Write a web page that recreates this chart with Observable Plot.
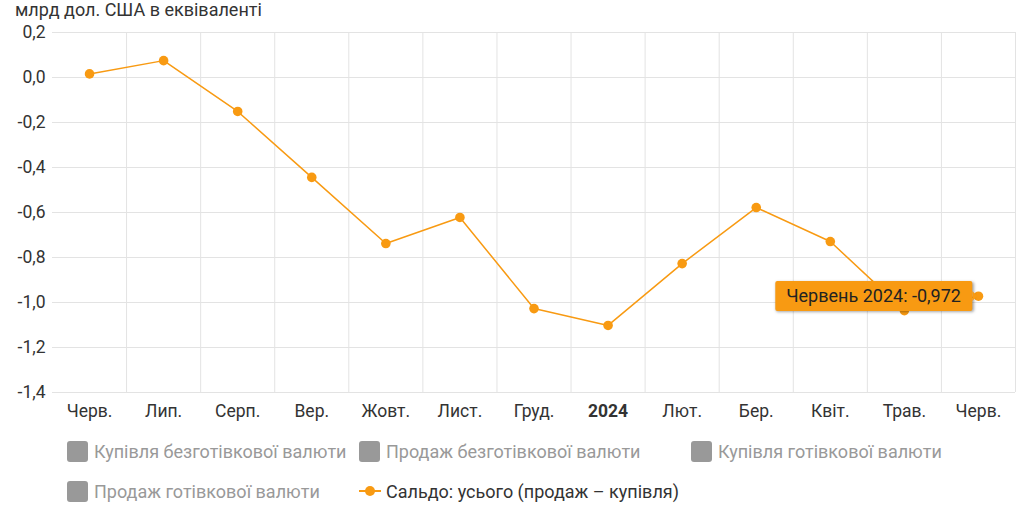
<!DOCTYPE html>
<html><head><meta charset="utf-8">
<script src="https://cdn.jsdelivr.net/npm/d3@7"></script>
<script src="https://cdn.jsdelivr.net/npm/@observablehq/plot@0.6"></script>
<style>
body{margin:0;background:#fff;font-family:Roboto,"Noto Sans",sans-serif;}
#wrap{position:relative;width:1024px;height:509px;overflow:hidden;background:#fff}
#title{position:absolute;left:15px;top:-1px;font-size:18px;line-height:22px;color:#333;z-index:2}
#chart{position:absolute;left:0;top:0;z-index:1}
.row{position:absolute;left:67px;display:flex;align-items:center;font-size:18px;color:#999;height:24px;z-index:3}
.item{display:flex;align-items:center;}
.sw{width:21px;height:21px;border-radius:3px;background:#999;margin-right:6px}
.ln{position:relative;width:22px;height:2px;background:#f89a12;margin-right:5px}
.ln::after{content:"";position:absolute;left:6px;top:-4px;width:10px;height:10px;border-radius:50%;background:#f89a12}
.tip{position:absolute;z-index:4;background:#f89a12;color:#222;font-size:18px;line-height:30px;height:30px;padding:0 11px;border-radius:2px;box-shadow:1px 1px 3px rgba(0,0,0,0.35);transform:translate(-100%,-50%);white-space:nowrap}
.tip::after{content:"";position:absolute;right:-5px;top:10px;border-top:5px solid transparent;border-bottom:5px solid transparent;border-left:5px solid #f89a12}
</style>
</head><body>
<div id="wrap">
  <div id="title">млрд дол. США в еквіваленті</div>
  <div id="chart"></div>
</div>
<script>
const months = ["2023-06","2023-07","2023-08","2023-09","2023-10","2023-11","2023-12","2024-01","2024-02","2024-03","2024-04","2024-05","2024-06"];
const monthLabels = ["Черв.","Лип.","Серп.","Вер.","Жовт.","Лист.","Груд.","2024","Лют.","Бер.","Квіт.","Трав.","Черв."];
const saldo = [0.016, 0.075, -0.151, -0.444, -0.738, -0.622, -1.027, -1.102, -0.827, -0.578, -0.729, -1.036, -0.972];
const yTicks = [0.2, 0, -0.2, -0.4, -0.6, -0.8, -1.0, -1.2, -1.4];
const legendInactive = ["Купівля безготівкової валюти","Продаж безготівкової валюти","Купівля готівкової валюти","Продаж готівкової валюти"];
const legendActive = "Сальдо: усього (продаж – купівля)";
const tipLabel = "Червень 2024";

const color = "#f89a12";
const data = months.map((m, i) => ({i, m, v: saldo[i]}));
const edges = d3.range(0.5, months.length, 1);
const fmt = v => d3.format(".1f")(v).replace(".", ",").replace("−", "-");

const plot = Plot.plot({
  width: 1024,
  height: 430,
  marginLeft: 52,
  marginRight: 9,
  marginTop: 32,
  marginBottom: 38,
  style: {fontFamily: "Roboto, sans-serif", fontSize: "17.5px", color: "#333", background: "transparent"},
  x: {type: "linear", domain: [-0.5, months.length - 0.5]},
  y: {domain: [-1.4, 0.2]},
  marks: [
    Plot.gridY(yTicks, {stroke: "#e3e3e3", strokeOpacity: 1}),
    Plot.ruleX(edges, {stroke: "#e3e3e3", strokeOpacity: 1}),
    Plot.axisY(yTicks, {tickSize: 0, tickPadding: 7, tickFormat: fmt, label: null, fontSize: 17.5}),
    Plot.axisX(d3.range(months.length), {tickSize: 0, tickPadding: 12, tickFormat: i => monthLabels[i], label: null, fontSize: 17.5}),
    Plot.line(data, {x: "i", y: "v", stroke: color, strokeWidth: 1.5}),
    Plot.dot(data, {x: "i", y: "v", fill: color, r: 4.8})
  ]
});
document.getElementById("chart").appendChild(plot);
d3.select(plot).selectAll("text").filter(function(){ return this.textContent === "2024"; }).attr("font-weight", "bold");

const wrap = document.getElementById("wrap");
const last = saldo.length - 1;
const px = plot.scale("x").apply(last);
const py = plot.scale("y").apply(saldo[last]);
const tip = document.createElement("div");
tip.className = "tip";
tip.textContent = tipLabel + ": " + d3.format(".3f")(saldo[last]).replace(".", ",").replace("−", "-");
tip.style.left = (px - 6) + "px";
tip.style.top = py + "px";
wrap.appendChild(tip);

const rows = [[0, 1, 2], [3, "active"]];
const rowTops = [439, 479];
const widths = [292, 332, 300];
rows.forEach((r, ri) => {
  const row = document.createElement("div");
  row.className = "row";
  row.style.top = rowTops[ri] + "px";
  r.forEach((k, ci) => {
    const it = document.createElement("div");
    it.className = "item";
    if (ci < r.length - 1) it.style.width = widths[ci] + "px";
    if (k === "active") {
      it.innerHTML = '<span class="ln"></span>';
      it.appendChild(document.createTextNode(legendActive));
      it.style.color = "#333";
    } else {
      it.innerHTML = '<span class="sw"></span>';
      it.appendChild(document.createTextNode(legendInactive[k]));
    }
    row.appendChild(it);
  });
  wrap.appendChild(row);
});
</script>
</body></html>
